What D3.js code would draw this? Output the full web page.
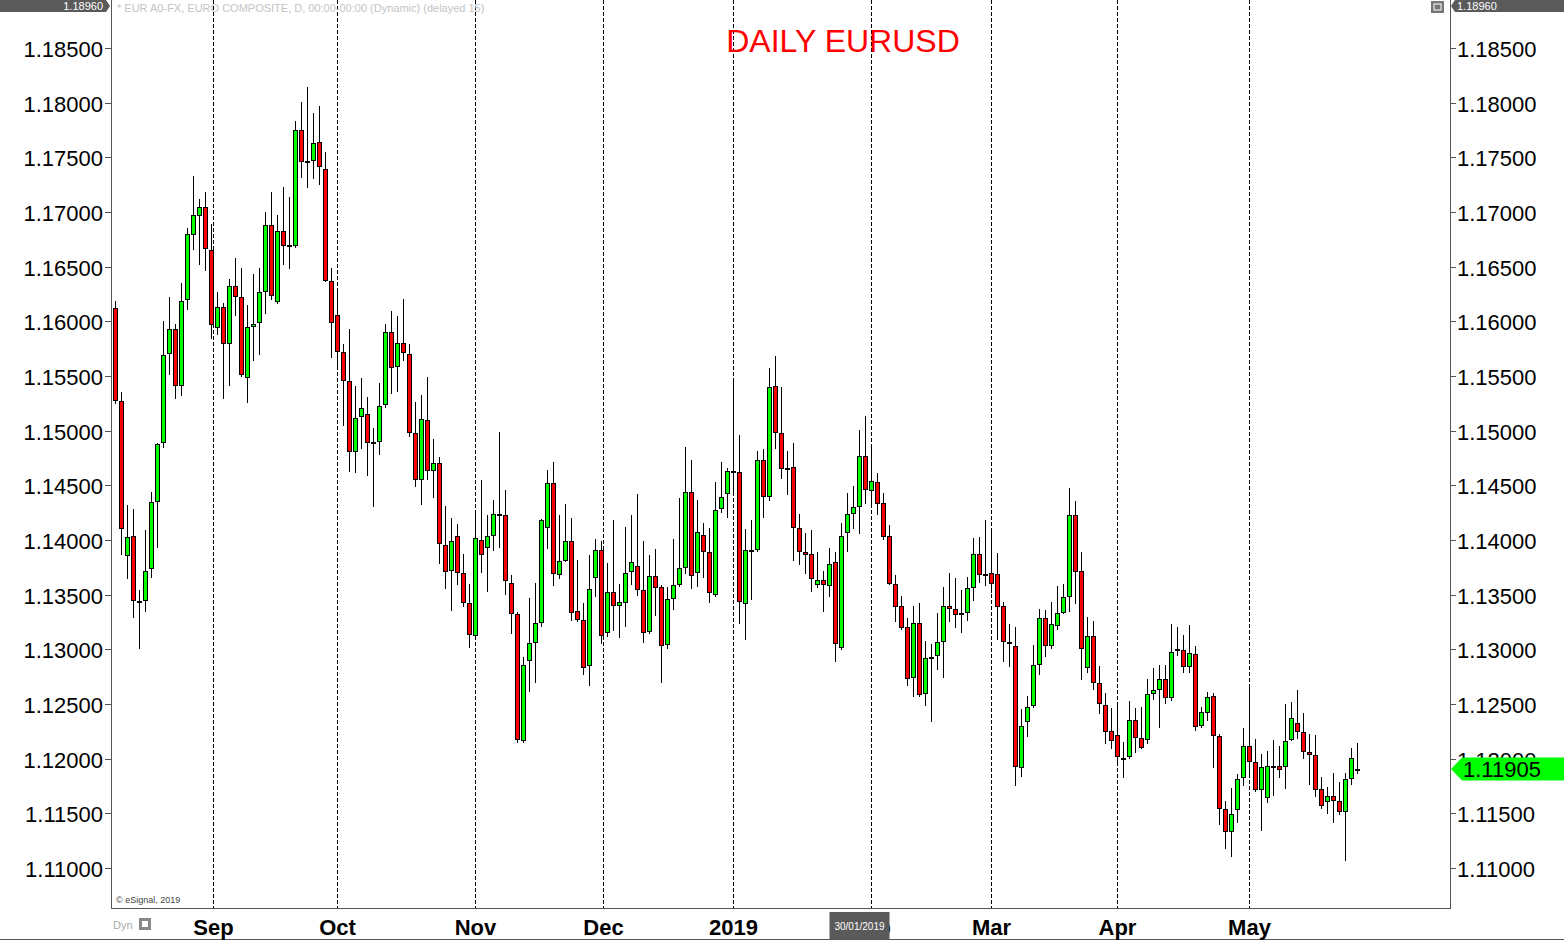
<!DOCTYPE html>
<html><head><meta charset="utf-8">
<script src="https://cdn.jsdelivr.net/npm/d3@7"></script>
<style>html,body{margin:0;padding:0;background:#fff;overflow:hidden}svg{display:block}</style>
</head><body><svg id="c" width="1564" height="941"></svg>
<script>
// ---- data ----
const firstDay = "2018-08-09";
const lastDay = "2019-05-27";
const opens = [1.1612,1.1527,1.1386,1.1404,1.1344,1.1345,1.1374,1.1436,1.1490,1.1571,
1.1593,1.1542,1.1620,1.1680,1.1697,1.1705,1.1665,1.1595,1.1613,1.1580,
1.1632,1.1622,1.1549,1.1596,1.1599,1.1628,1.1688,1.1619,1.1683,1.1670,
1.1670,1.1775,1.1747,1.1748,1.1764,1.1739,1.1637,1.1606,1.1572,1.1545,
1.1481,1.1513,1.1515,1.1490,1.1491,1.1524,1.1590,1.1559,1.1580,1.1570,
1.1498,1.1456,1.1510,1.1464,1.1470,1.1395,1.1373,1.1404,1.1370,1.1342,
1.1313,1.1400,1.1394,1.1405,1.1424,1.1423,1.1361,1.1332,1.1217,1.1290,
1.1307,1.1325,1.1412,1.1452,1.1369,1.1382,1.1399,1.1335,1.1327,1.1286,
1.1366,1.1391,1.1316,1.1352,1.1341,1.1343,1.1372,1.1376,1.1354,1.1317,
1.1367,1.1357,1.1305,1.1347,1.1360,1.1375,1.1444,1.1371,1.1405,1.1389,
1.1351,1.1429,1.1443,1.1463,1.1462,1.1342,1.1391,1.1392,1.1473,1.1440,
1.1541,1.1498,1.1466,1.1467,1.1411,1.1389,1.1387,1.1360,1.1363,1.1359,
1.1380,1.1302,1.1407,1.1425,1.1431,1.1477,1.1446,1.1453,1.1434,1.1404,
1.1360,1.1340,1.1320,1.1275,1.1324,1.1260,1.1292,1.1295,1.1308,1.1340,
1.1337,1.1333,1.1334,1.1357,1.1387,1.1369,1.1370,1.1369,1.1340,1.1307,
1.1303,1.1192,1.1234,1.1249,1.1287,1.1329,1.1304,1.1322,1.1334,1.1349,
1.1423,1.1372,1.1284,1.1312,1.1269,1.1249,1.1225,1.1222,1.1201,1.1202,
1.1235,1.1219,1.1218,1.1260,1.1264,1.1273,1.1256,1.1299,1.1299,1.1285,
1.1296,1.1231,1.1243,1.1257,1.1221,1.1154,1.1134,1.1154,1.1183,1.1212,
1.1197,1.1172,1.1165,1.1193,1.1193,1.1193,1.1218,1.1233,1.1224,1.1206,
1.1203,1.1172,1.1161,1.1166,1.1161,1.1152,1.1182,1.1191];
const highs = [1.1619,1.1535,1.1432,1.1428,1.1354,1.1409,1.1444,1.1489,1.1600,1.1622,
1.1598,1.1635,1.1685,1.1733,1.1712,1.1718,1.1689,1.1627,1.1617,1.1639,
1.1658,1.1649,1.1615,1.1643,1.1649,1.1700,1.1718,1.1697,1.1723,1.1714,
1.1783,1.1801,1.1814,1.1791,1.1797,1.1755,1.1649,1.1628,1.1579,1.1593,
1.1541,1.1548,1.1531,1.1502,1.1544,1.1598,1.1609,1.1605,1.1620,1.1579,
1.1526,1.1533,1.1549,1.1492,1.1476,1.1431,1.1420,1.1415,1.1387,1.1360,
1.1424,1.1455,1.1423,1.1437,1.1499,1.1446,1.1368,1.1334,1.1293,1.1347,
1.1361,1.1419,1.1464,1.1471,1.1423,1.1433,1.1420,1.1382,1.1342,1.1386,
1.1401,1.1399,1.1379,1.1418,1.1360,1.1412,1.1423,1.1442,1.1399,1.1386,
1.1392,1.1359,1.1357,1.1401,1.1438,1.1485,1.1473,1.1437,1.1416,1.1411,
1.1453,1.1471,1.1466,1.1545,1.1496,1.1410,1.1418,1.1481,1.1483,1.1557,
1.1568,1.1540,1.1481,1.1489,1.1424,1.1406,1.1409,1.1389,1.1372,1.1393,
1.1389,1.1416,1.1443,1.1449,1.1501,1.1513,1.1488,1.1461,1.1443,1.1414,
1.1368,1.1349,1.1329,1.1340,1.1342,1.1308,1.1305,1.1333,1.1357,1.1370,
1.1365,1.1354,1.1366,1.1402,1.1403,1.1418,1.1409,1.1388,1.1343,1.1323,
1.1320,1.1245,1.1257,1.1304,1.1337,1.1336,1.1343,1.1358,1.1360,1.1448,
1.1436,1.1389,1.1330,1.1326,1.1285,1.1260,1.1246,1.1250,1.1215,1.1253,
1.1246,1.1247,1.1273,1.1283,1.1286,1.1286,1.1323,1.1320,1.1313,1.1322,
1.1303,1.1247,1.1261,1.1260,1.1223,1.1161,1.1173,1.1186,1.1228,1.1266,
1.1218,1.1204,1.1207,1.1217,1.1212,1.1250,1.1252,1.1263,1.1242,1.1223,
1.1222,1.1183,1.1174,1.1187,1.1179,1.1187,1.1210,1.1214];
const lows = [1.1525,1.1387,1.1365,1.1330,1.1301,1.1335,1.1366,1.1394,1.1485,1.1552,
1.1530,1.1533,1.1611,1.1666,1.1652,1.1647,1.1585,1.1588,1.1530,1.1542,
1.1606,1.1550,1.1526,1.1565,1.1570,1.1608,1.1620,1.1617,1.1652,1.1649,
1.1668,1.1732,1.1723,1.1731,1.1726,1.1637,1.1567,1.1560,1.1505,1.1463,
1.1462,1.1484,1.1459,1.1431,1.1479,1.1522,1.1534,1.1536,1.1565,1.1495,
1.1449,1.1433,1.1456,1.1439,1.1379,1.1356,1.1336,1.1360,1.1340,1.1302,
1.1311,1.1371,1.1353,1.1391,1.1394,1.1351,1.1315,1.1215,1.1215,1.1262,
1.1270,1.1321,1.1393,1.1359,1.1365,1.1381,1.1327,1.1326,1.1277,1.1267,
1.1349,1.1306,1.1312,1.1318,1.1311,1.1321,1.1360,1.1350,1.1307,1.1315,
1.1331,1.1270,1.1301,1.1337,1.1358,1.1370,1.1356,1.1358,1.1366,1.1343,
1.1349,1.1426,1.1421,1.1445,1.1324,1.1309,1.1346,1.1390,1.1421,1.1437,
1.1484,1.1457,1.1442,1.1382,1.1378,1.1370,1.1353,1.1357,1.1335,1.1349,
1.1289,1.1300,1.1390,1.1411,1.1406,1.1434,1.1434,1.1424,1.1401,1.1360,
1.1326,1.1319,1.1267,1.1257,1.1257,1.1249,1.1234,1.1282,1.1275,1.1326,
1.1320,1.1316,1.1327,1.1345,1.1362,1.1359,1.1352,1.1309,1.1289,1.1285,
1.1176,1.1184,1.1221,1.1247,1.1277,1.1294,1.1301,1.1319,1.1333,1.1335,
1.1342,1.1273,1.1279,1.1264,1.1242,1.1214,1.1210,1.1198,1.1183,1.1201,
1.1206,1.1210,1.1214,1.1255,1.1229,1.1251,1.1254,1.1295,1.1279,1.1279,
1.1226,1.1229,1.1235,1.1192,1.1140,1.1118,1.1111,1.1142,1.1176,1.1186,
1.1170,1.1135,1.1160,1.1167,1.1183,1.1173,1.1217,1.1219,1.1201,1.1177,
1.1166,1.1155,1.1150,1.1142,1.1149,1.1107,1.1177,1.1187];
const closes = [1.1528,1.1411,1.1403,1.1345,1.1343,1.1372,1.1435,1.1488,1.1569,1.1593,
1.1542,1.1619,1.1680,1.1697,1.1705,1.1667,1.1598,1.1613,1.1580,1.1632,
1.1623,1.1552,1.1595,1.1598,1.1627,1.1688,1.1624,1.1683,1.1670,1.1670,
1.1775,1.1747,1.1747,1.1763,1.1742,1.1638,1.1599,1.1573,1.1546,1.1481,
1.1512,1.1521,1.1490,1.1490,1.1523,1.1590,1.1558,1.1580,1.1572,1.1499,
1.1456,1.1511,1.1464,1.1470,1.1397,1.1372,1.1399,1.1371,1.1343,1.1314,
1.1402,1.1387,1.1404,1.1424,1.1423,1.1363,1.1333,1.1218,1.1286,1.1306,
1.1324,1.1418,1.1452,1.1370,1.1381,1.1399,1.1334,1.1328,1.1284,1.1355,
1.1391,1.1313,1.1352,1.1341,1.1343,1.1370,1.1380,1.1355,1.1316,1.1367,
1.1357,1.1304,1.1346,1.1359,1.1374,1.1444,1.1368,1.1407,1.1390,1.1352,
1.1427,1.1439,1.1463,1.1462,1.1344,1.1391,1.1391,1.1473,1.1440,1.1540,
1.1499,1.1466,1.1466,1.1412,1.1390,1.1387,1.1365,1.1363,1.1360,1.1378,
1.1306,1.1404,1.1424,1.1430,1.1477,1.1447,1.1454,1.1434,1.1404,1.1361,
1.1340,1.1320,1.1274,1.1324,1.1259,1.1292,1.1293,1.1307,1.1340,1.1338,
1.1332,1.1333,1.1356,1.1387,1.1369,1.1369,1.1361,1.1340,1.1308,1.1307,
1.1193,1.1230,1.1247,1.1286,1.1329,1.1304,1.1323,1.1333,1.1348,1.1423,
1.1372,1.1301,1.1312,1.1270,1.1251,1.1225,1.1217,1.1202,1.1201,1.1235,
1.1220,1.1211,1.1259,1.1263,1.1273,1.1256,1.1298,1.1300,1.1285,1.1297,
1.1230,1.1243,1.1256,1.1222,1.1155,1.1134,1.1149,1.1181,1.1212,1.1198,
1.1172,1.1192,1.1193,1.1193,1.1191,1.1216,1.1237,1.1225,1.1207,1.1204,
1.1172,1.1158,1.1166,1.1162,1.1152,1.1181,1.1201,1.11905];
const yTickValues = [1.110,1.115,1.120,1.125,1.130,1.135,1.140,1.145,1.150,1.155,1.160,1.165,1.170,1.175,1.180,1.185];
const monthStarts = ["2018-09-01","2018-10-01","2018-11-01","2018-12-01","2019-01-01","2019-02-01","2019-03-01","2019-04-01","2019-05-01"];
const monthLabels = ["Sep","Oct","Nov","Dec","2019","Feb","Mar","Apr","May"];
const titleText = "DAILY EURUSD";
const headerText = "* EUR A0-FX, EURO COMPOSITE, D, 00:00-00:00 (Dynamic) (delayed 15)";
const topBadgeText = "1.18960";
const cursorDate = "2019-01-30";

// ---- build ----
const parse = d3.utcParse("%Y-%m-%d");
const fmtCursor = d3.utcFormat("%d/%m/%Y");
const dates = d3.utcDays(parse(firstDay), d3.utcDay.offset(parse(lastDay), 1))
  .filter(d => d.getUTCDay() !== 0 && d.getUTCDay() !== 6);
const candles = dates.map((d, i) => ({date: d, o: opens[i], h: highs[i], l: lows[i], c: closes[i]}));

const FONT = "'Liberation Sans', Arial, sans-serif";
const svg = d3.select("#c");
const L = 111, R = 1450, B = 908;

const x = d3.scaleLinear().domain([0, 207]).range([115.5, 1357.5]);
const y = d3.scaleLinear().domain([1.110, 1.185]).range([868, 48]);

function idxOf(dateStr) {
  const t = parse(dateStr);
  const i = dates.findIndex(d => d >= t);
  return dates[i].getTime() === t.getTime() ? i : i - 2 / 3;
}

svg.append("rect").attr("width", 1564).attr("height", 941).attr("fill", "#fff");

// month dashed lines
const mg = svg.append("g");
monthStarts.forEach(ms => {
  const xx = Math.floor(x(idxOf(ms))) + 0.5;
  mg.append("line").attr("x1", xx).attr("x2", xx).attr("y1", 0).attr("y2", B)
    .attr("stroke", "#000").attr("stroke-width", 1).attr("stroke-dasharray", "4,2")
    .attr("shape-rendering", "crispEdges");
});

// header text
svg.append("text").attr("x", 117).attr("y", 12).attr("font-family", FONT).attr("font-size", 11)
  .attr("fill", "#c4c4c4").text(headerText);

// title
svg.append("text").attr("x", 843).attr("y", 52).attr("text-anchor", "middle")
  .attr("font-family", FONT).attr("font-size", 32).attr("fill", "#ff0000").text(titleText);

// candles
const cg = svg.append("g").attr("shape-rendering", "crispEdges");
candles.forEach((d, i) => {
  const cx = Math.round(x(i) - 0.5) + 0.5;
  cg.append("line").attr("x1", cx).attr("x2", cx)
    .attr("y1", Math.round(y(d.h))).attr("y2", Math.round(y(d.l)) + 1)
    .attr("stroke", "#000").attr("stroke-width", 1);
  const yt = Math.round(y(Math.max(d.o, d.c))) + 0.5;
  const yb = Math.round(y(Math.min(d.o, d.c))) + 0.5;
  cg.append("rect").attr("x", cx - 2).attr("width", 4)
    .attr("y", yt).attr("height", Math.max(yb - yt, 1))
    .attr("fill", d.c >= d.o ? "#00ff00" : "#ff0000")
    .attr("stroke", "#000").attr("stroke-width", 1);
});

// frame
const fr = svg.append("g").attr("stroke", "#555").attr("shape-rendering", "crispEdges");
fr.append("line").attr("x1", L + 0.5).attr("x2", L + 0.5).attr("y1", 0).attr("y2", B + 1);
fr.append("line").attr("x1", R + 0.5).attr("x2", R + 0.5).attr("y1", 0).attr("y2", B + 1);
fr.append("line").attr("x1", L).attr("x2", R + 1).attr("y1", B + 0.5).attr("y2", B + 0.5);
fr.append("line").attr("x1", 0).attr("x2", 1564).attr("y1", 939.5).attr("y2", 939.5);

// y axes
const fmt = d3.format(".5f");
const ag = svg.append("g").attr("font-family", FONT).attr("font-size", 22).attr("fill", "#000");
yTickValues.forEach(v => {
  const yy = Math.round(y(v)) + 0.5;
  ag.append("line").attr("x1", L - 6).attr("x2", L).attr("y1", yy).attr("y2", yy)
    .attr("stroke", "#555").attr("shape-rendering", "crispEdges");
  ag.append("line").attr("x1", R).attr("x2", R + 6).attr("y1", yy).attr("y2", yy)
    .attr("stroke", "#555").attr("shape-rendering", "crispEdges");
  ag.append("text").attr("x", 103).attr("y", yy + 8).attr("text-anchor", "end").text(fmt(v));
  ag.append("text").attr("x", 1457).attr("y", yy + 8).attr("text-anchor", "start").text(fmt(v));
});

// x axis month labels
const xg = svg.append("g").attr("font-family", FONT).attr("font-size", 22).attr("font-weight", "bold").attr("fill", "#000");
monthStarts.forEach((ms, k) => {
  xg.append("text").attr("x", Math.floor(x(idxOf(ms))) + 0.5).attr("y", 935).attr("text-anchor", "middle").text(monthLabels[k]);
});

// cursor date box
const cxd = x(idxOf(cursorDate));
svg.append("rect").attr("x", cxd - 30).attr("y", 912).attr("width", 60).attr("height", 27).attr("fill", "#5a5a5a");
svg.append("text").attr("x", cxd).attr("y", 930).attr("text-anchor", "middle").attr("font-family", FONT)
  .attr("font-size", 10).attr("fill", "#fff").text(fmtCursor(parse(cursorDate)));

// "Dyn" and icon
svg.append("text").attr("x", 113).attr("y", 929).attr("font-family", FONT).attr("font-size", 11).attr("fill", "#aaa").text("Dyn");
svg.append("rect").attr("x", 139).attr("y", 918).attr("width", 12).attr("height", 12).attr("fill", "#888");
svg.append("rect").attr("x", 142).attr("y", 921).attr("width", 6).attr("height", 6).attr("fill", "#fff");

// copyright
svg.append("text").attr("x", 116).attr("y", 903).attr("font-family", FONT).attr("font-size", 9).attr("fill", "#444").text("\u00a9 eSignal, 2019");

// top badges
svg.append("path").attr("d", "M0,0H106L110,6L106,12H0Z").attr("fill", "#5a5a5a");
svg.append("text").attr("x", 103).attr("y", 10).attr("text-anchor", "end").attr("font-family", FONT)
  .attr("font-size", 11).attr("fill", "#fff").text(topBadgeText);
svg.append("rect").attr("x", 1431).attr("y", 1).attr("width", 13).attr("height", 12).attr("fill", "#777");
svg.append("rect").attr("x", 1434).attr("y", 4).attr("width", 7).attr("height", 6).attr("fill", "none").attr("stroke", "#fff");
svg.append("path").attr("d", "M1451,6L1455,0H1564V12H1455Z").attr("fill", "#5a5a5a");
svg.append("text").attr("x", 1457).attr("y", 10).attr("font-family", FONT)
  .attr("font-size", 11).attr("fill", "#fff").text(topBadgeText);

// last price marker
const last = closes[closes.length - 1];
const ly = y(last);
svg.append("path").attr("d", `M1451,${ly}L1462,${ly - 11.5}H1564V${ly + 11.5}H1462Z`).attr("fill", "#00ff00");
svg.append("text").attr("x", 1463).attr("y", ly + 8).attr("font-family", FONT).attr("font-size", 22)
  .attr("fill", "#000").text(fmt(last));
</script></body></html>
